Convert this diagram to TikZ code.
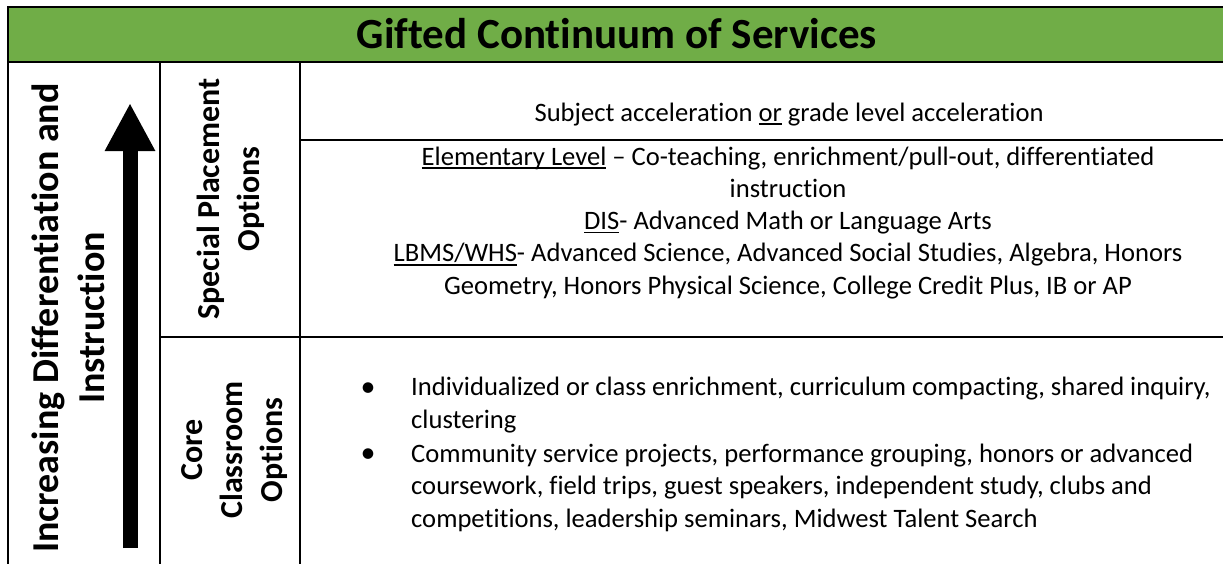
\documentclass[tikz,border=0pt]{standalone}
\usepackage{fontspec}
\setmainfont{Carlito}[Ligatures={TeX,NoCommon}]
\usetikzlibrary{shapes,positioning,arrows.meta,calc}
\definecolor{headgreen}{HTML}{70AD47}
\newcommand{\undl}[1]{\setbox0=\hbox{#1}\rlap{\vrule height -2.2pt depth 3.8pt width \wd0}\box0\relax}

\begin{document}
\begin{tikzpicture}[
    x=1pt, y=-1pt,
    Grid/.style={line width=2.2pt},
    Head/.style={font=\fontsize{43}{52}\selectfont\bfseries, inner sep=0pt, anchor=base},
    Side/.style={font=\fontsize{38}{46}\selectfont\bfseries, rotate=90, align=center, inner sep=0pt},
    Tag/.style={font=\fontsize{32}{40}\selectfont\bfseries, rotate=90, align=center, inner sep=0pt},
    Body/.style={font=\fontsize{26.6}{32.2}\selectfont, inner sep=0pt},
    Dot/.style={font=\fontsize{30}{32}\selectfont, inner sep=0pt, anchor=base}
    ]
    \useasboundingbox (0,0) rectangle (1223,563);
    \clip (0,0) rectangle (1223,563);

    % table frame
    \fill[headgreen] (8,7) rectangle (1240,62);
    \draw[Grid] (8,580) -- (8,7) -- (1240,7);
    \draw[Grid] (8,62) -- (1240,62);
    \draw[Grid] (160,62) -- (160,580);
    \draw[Grid] (300,62) -- (300,580);
    \draw[Grid] (300,140) -- (1240,140);
    \draw[Grid] (160,337) -- (1240,337);

    \node[Head] (title) at (617,48) {Gifted Continuum of Services};

    % left column
    \node[Side] (sideLabel) at (68,318) {Increasing Differentiation and\\Instruction};
    \coordinate (arrowFoot) at (130,548);
    \coordinate (arrowTip) at (130,103);
    \draw[line width=15pt, -{Triangle[length=48pt,width=47pt]}] (arrowFoot) -- (arrowTip);

    \node[Tag] (spoLabel) at (231,199) {Special Placement\\Options};
    \node[Tag] (coreLabel) at (235,450) {Core\\Classroom\\Options};

    % special placement rows
    \node[Body, anchor=base] (accelText) at (789,121) {Subject acceleration \undl{or} grade level acceleration};
    \node[Body, align=center, anchor=base] (levelText) at (788,294)
        {\undl{Elementary Level} -- Co-teaching, enrichment/pull-out, differentiated\\
         instruction\\
         \undl{DIS}- Advanced Math or Language Arts\\
         \undl{LBMS/WHS}- Advanced Science, Advanced Social Studies, Algebra, Honors\\
         Geometry, Honors Physical Science, College Credit Plus, IB or AP};

    % core classroom rows
    \node[Dot] (bulletA) at (368,396) {•};
    \node[Body, align=left, anchor=base west] (itemA) at (411,428)
        {Individualized or class enrichment, curriculum compacting, shared inquiry,\\
         clustering};
    \node[Dot] (bulletB) at (368,462) {•};
    \node[Body, align=left, anchor=base west] (itemB) at (411,527)
        {Community service projects, performance grouping, honors or advanced\\
         coursework, field trips, guest speakers, independent study, clubs and\\
         competitions, leadership seminars, Midwest Talent Search};
\end{tikzpicture}
\end{document}
